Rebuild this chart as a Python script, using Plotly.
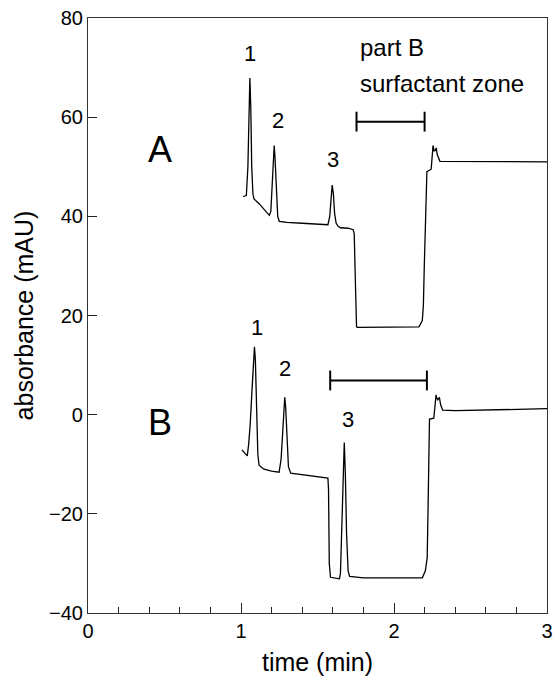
import plotly.graph_objects as go

# Trace A (time min, absorbance mAU)
time_a = [1.013, 1.035, 1.045, 1.052, 1.058, 1.064, 1.070, 1.078, 1.085, 1.12, 1.16, 1.185,
          1.195, 1.205, 1.213, 1.217, 1.222, 1.230, 1.240, 1.250, 1.3, 1.4, 1.5, 1.568,
          1.580, 1.588, 1.596, 1.604, 1.612, 1.622, 1.635, 1.65, 1.7, 1.733, 1.740, 1.745,
          1.750, 1.755, 1.759, 1.9, 2.05, 2.163, 2.185, 2.192, 2.198, 2.205, 2.215, 2.243,
          2.250, 2.255, 2.262, 2.270, 2.276, 2.282, 2.3, 2.4, 2.6, 2.8, 3.0]
abs_a = [44.0, 44.2, 50.0, 62.0, 67.9, 62.0, 50.0, 44.5, 43.5, 42.5, 41.0, 40.2,
         41.0, 47.0, 53.0, 54.3, 52.0, 45.0, 40.0, 39.0, 38.8, 38.6, 38.4, 38.3,
         40.0, 44.0, 46.3, 44.5, 40.5, 38.6, 38.0, 37.7, 37.6, 37.3, 36.5, 30.0,
         20.0, 17.8, 17.6, 17.6, 17.6, 17.7, 19.0, 22.0, 30.0, 40.0, 49.0, 49.5,
         53.0, 54.3, 53.2, 53.3, 53.8, 52.5, 51.1, 51.1, 51.0, 51.1, 51.0]

# Trace B
time_b = [1.006, 1.02, 1.041, 1.05, 1.06, 1.072, 1.082, 1.088, 1.094, 1.102, 1.110, 1.118,
          1.15, 1.2, 1.249, 1.262, 1.272, 1.28, 1.286, 1.292, 1.300, 1.310, 1.325, 1.4,
          1.5, 1.568, 1.572, 1.577, 1.585, 1.62, 1.643, 1.65, 1.660, 1.668, 1.675, 1.682,
          1.690, 1.700, 1.710, 1.8, 2.0, 2.185, 2.205, 2.217, 2.222, 2.228, 2.232, 2.26,
          2.268, 2.275, 2.28, 2.286, 2.292, 2.297, 2.305, 2.318, 2.4, 2.6, 2.8, 3.0]
abs_b = [-7.1, -7.5, -8.3, -6.0, -2.0, 5.0, 12.0, 13.7, 11.0, 0.0, -8.0, -10.2,
         -11.0, -11.4, -11.6, -9.0, -3.0, 2.0, 3.5, 1.5, -5.0, -10.5, -11.8, -12.1,
         -12.4, -12.8, -15.0, -30.0, -32.8, -32.9, -33.1, -32.0, -22.0, -12.0, -5.6, -12.0,
         -24.0, -31.5, -32.6, -32.9, -32.9, -32.9, -31.5, -28.8, -20.0, -8.0, -0.9, -0.7,
         2.5, 4.0, 3.3, 3.0, 3.3, 3.4, 2.0, 0.9, 0.8, 0.9, 1.0, 1.2]

# Surfactant zone bars: [start, end, level]
bar_a = [1.755, 2.200, 59.1]
bar_b = [1.583, 2.215, 6.9]
cap_half = 2.0

# Peak labels: (text, time, absorbance, size)
labels = [
    ("1", 1.058, 72.8, 22), ("2", 1.239, 59.3, 22), ("3", 1.600, 51.4, 22),
    ("1", 1.103, 17.5, 22), ("2", 1.287, 9.3, 22), ("3", 1.697, -0.9, 22),
    ("A", 0.468, 53.4, 36), ("B", 0.471, -1.5, 36),
]
notes = [("part B", 1.766, 74.0), ("surfactant zone", 1.766, 66.7)]

x_ticks = [0, 1, 2, 3]
y_ticks = [-40, -20, 0, 20, 40, 60, 80]

FONT = "Liberation Sans, Arial, sans-serif"

fig = go.Figure()
fig.add_trace(go.Scatter(x=time_a, y=abs_a, mode="lines",
                         line=dict(color="black", width=1.3), showlegend=False))
fig.add_trace(go.Scatter(x=time_b, y=abs_b, mode="lines",
                         line=dict(color="black", width=1.3), showlegend=False))

for b in (bar_a, bar_b):
    s, e, lvl = b
    fig.add_trace(go.Scatter(
        x=[s, e, None, s, s, None, e, e],
        y=[lvl, lvl, None, lvl - cap_half, lvl + cap_half, None, lvl - cap_half, lvl + cap_half],
        mode="lines", line=dict(color="black", width=2), showlegend=False))

for txt, t, v, sz in labels:
    fig.add_annotation(x=t, y=v, text=txt, showarrow=False,
                       font=dict(family=FONT, size=sz, color="black"),
                       xanchor="center", yanchor="middle")
for txt, t, v in notes:
    fig.add_annotation(x=t, y=v, text=txt, showarrow=False,
                       font=dict(family=FONT, size=24, color="black"),
                       xanchor="left", yanchor="middle")

fig.update_xaxes(range=[0, 3], tickvals=x_ticks, ticks="inside", ticklen=10,
                 tickcolor="#222", tickwidth=1,
                 minor=dict(dtick=0.2, ticks="inside", ticklen=6, tickcolor="#222", tickwidth=1),
                 showgrid=False, zeroline=False, showline=True, linecolor="#333",
                 linewidth=1.2, mirror=True,
                 tickfont=dict(family=FONT, size=20, color="black"),
                 title=dict(text="time (min)", font=dict(family=FONT, size=25, color="black"),
                            standoff=12))
fig.update_yaxes(range=[-40, 80], tickvals=y_ticks, ticks="inside", ticklen=9,
                 tickcolor="#222", tickwidth=1,
                 showgrid=False, zeroline=False, showline=True, linecolor="#333",
                 linewidth=1.2, mirror=True,
                 tickfont=dict(family=FONT, size=20, color="black"),
                 title=dict(text="absorbance (mAU)", font=dict(family=FONT, size=25, color="black"),
                            standoff=8))

fig.update_layout(width=560, height=685, margin=dict(l=88, r=7, t=18, b=72),
                  paper_bgcolor="white", plot_bgcolor="white",
                  font=dict(family=FONT, color="black"))

fig.write_html("out.html")
